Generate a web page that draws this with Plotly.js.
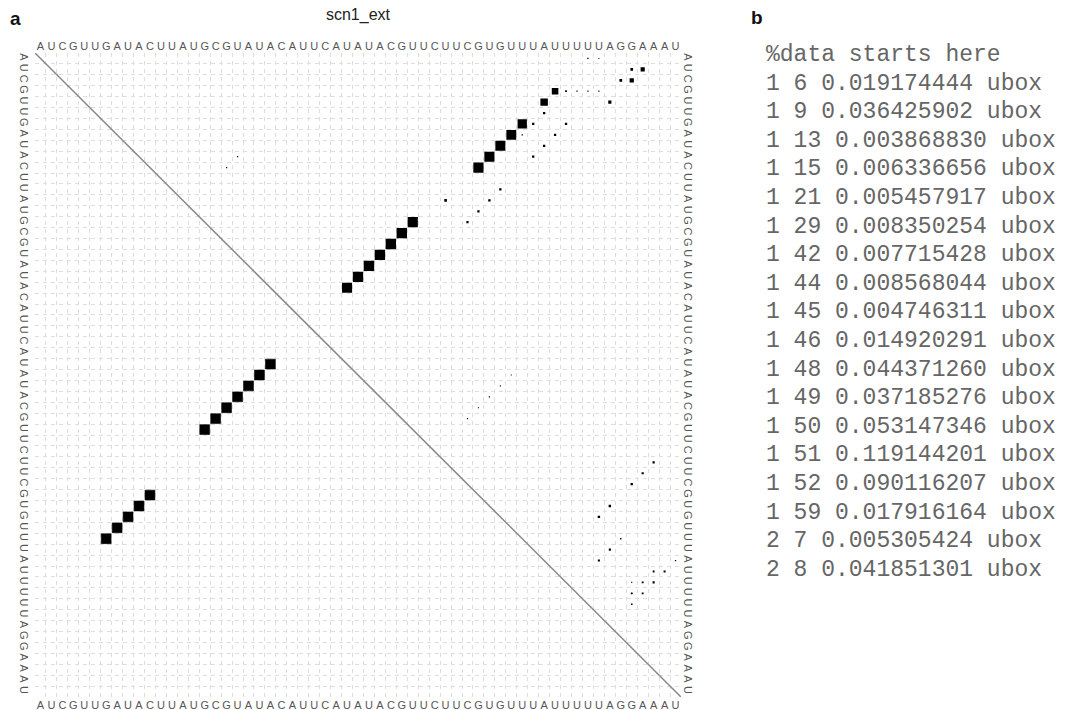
<!DOCTYPE html>
<html><head><meta charset="utf-8">
<script src="https://cdn.plot.ly/plotly-3.0.1.min.js"></script>
<style>html,body{margin:0;padding:0;background:#fff}</style>
</head><body><div id="chart" style="width:1071px;height:710px"></div>
<script>
// ---- data ----
const sequence = "AUCGUUGAUACUUAUGCGUAUACAUUCAUAUACGUUCUUCGUGUUUAUUUUUAGGAAAU";
const plotTitle = "scn1_ext";
const listingHeader = "%data starts here";
// pairs printed in panel b (i, j, sqrt(p))
const listI = [1,1,1,1,1,1,1,1,1,1,1,1,1,1,1,1,2,2];
const listJ = [6,9,13,15,21,29,42,44,45,46,48,49,50,51,52,59,7,8];
const listV = [0.019174444,0.036425902,0.003868830,0.006336656,0.005457917,0.008350254,0.007715428,0.008568044,0.004746311,0.014920291,0.044371260,0.037185276,0.053147346,0.119144201,0.090116207,0.017916164,0.005305424,0.041851301];
// other base-pair probabilities (i, j, sqrt(p))
const probI = [2,2,3,3,4,4,4,4,4,5,5,6,7,7,7,8,8,8,9,9,10,10,11,13,14,14,15,16,16,17,18,19,20,21,22,10,11,30,31,32,33,34,38,39,40,42,43,45,46,47,47,48,48,49,49,49,50,50,51];
const probJ = [55,56,54,55,48,49,50,51,52,47,53,47,45,46,49,44,45,48,43,47,42,46,41,43,42,38,41,40,35,34,33,32,31,30,29,19,18,44,43,42,41,40,57,56,55,53,52,54,53,52,59,57,58,55,56,57,55,56,55];
const probV = [0.24,0.38,0.25,0.39,0.60,0.16,0.11,0.11,0.11,0.68,0.29,0.21,0.85,0.21,0.21,0.90,0.12,0.21,0.91,0.21,0.92,0.21,0.93,0.21,0.22,0.24,0.21,0.20,0.93,0.95,0.95,0.95,0.95,0.94,0.92,0.11,0.11,0.09,0.10,0.11,0.11,0.10,0.20,0.20,0.21,0.22,0.22,0.12,0.19,0.19,0.12,0.17,0.18,0.10,0.17,0.19,0.17,0.17,0.15];
// minimum free energy structure pairs (i, j)
const mfeI = [7,8,9,10,11,16,17,18,19,20,21,22];
const mfeJ = [45,44,43,42,41,35,34,33,32,31,30,29];

// ---- layout geometry (pixels) ----
const W = 1071, H = 710;
const M = {l: 35, r: 390, t: 53, b: 13};
const pw = W - M.l - M.r, ph = H - M.t - M.b;
const px2paperX = p => (p - M.l) / pw;
const py2paperY = p => 1 - (p - M.t) / ph;

const n = sequence.length;
const letters = sequence.split('');
const idx = letters.map((_, k) => k + 1);

function squares(cx, cy, side) {
  const xs = [], ys = [];
  for (let k = 0; k < cx.length; k++) {
    const h = side[k] / 2;
    xs.push(cx[k]-h, cx[k]+h, cx[k]+h, cx[k]-h, cx[k]-h, null);
    ys.push(cy[k]-h, cy[k]-h, cy[k]+h, cy[k]+h, cy[k]-h, null);
  }
  return {xs, ys};
}

const allI = listI.concat(probI), allJ = listJ.concat(probJ), allV = listV.concat(probV);
const up = squares(allJ, allI, allV);
const mfeSide = mfeI.map(() => 0.9);
const lo = squares(mfeI, mfeJ, mfeSide);

const traces = [
  {type: 'scatter', mode: 'lines', x: up.xs, y: up.ys, fill: 'toself', fillcolor: '#000',
   line: {width: 0, color: '#000'}, hoverinfo: 'skip', showlegend: false},
  {type: 'scatter', mode: 'lines', x: lo.xs, y: lo.ys, fill: 'toself', fillcolor: '#000',
   line: {width: 0.6, color: '#000'}, hoverinfo: 'skip', showlegend: false},
  {type: 'scatter', mode: 'markers', x: [1], y: [1], xaxis: 'x2', yaxis: 'y2',
   marker: {opacity: 0}, hoverinfo: 'skip', showlegend: false}
];

const tickFont = {family: 'Liberation Sans, Arial, sans-serif', size: 11, color: '#555'};
const gridMinor = {tickmode: 'linear', tick0: 0.5, dtick: 1, showgrid: true,
  gridcolor: '#dedede', gridwidth: 1, griddash: '4px,4px', ticks: ''};
const baseAxis = {
  range: [0.5, n + 0.5], tickmode: 'array', tickvals: idx, ticktext: letters,
  showgrid: false, zeroline: false, showline: false, ticks: '', tickfont: tickFont,
  automargin: false, fixedrange: true
};

const lines = [listingHeader].concat(listI.map((v, k) => v + ' ' + listJ[k] + ' ' + listV[k].toFixed(9) + ' ubox'));
const annotations = [
  {text: '<b>a</b>', xref: 'paper', yref: 'paper', x: px2paperX(15), y: py2paperY(19),
   xanchor: 'center', yanchor: 'middle', showarrow: false,
   font: {family: 'Liberation Sans, Arial, sans-serif', size: 19, color: '#111'}},
  {text: '<b>b</b>', xref: 'paper', yref: 'paper', x: px2paperX(757), y: py2paperY(18),
   xanchor: 'center', yanchor: 'middle', showarrow: false,
   font: {family: 'Liberation Sans, Arial, sans-serif', size: 19, color: '#111'}}
];
lines.forEach((t, k) => annotations.push({
  text: t, xref: 'paper', yref: 'paper', x: px2paperX(764), y: py2paperY(55 + k * 28.6),
  xanchor: 'left', yanchor: 'middle', showarrow: false,
  font: {family: 'Liberation Mono, Courier New, monospace', size: 23, color: '#666'}
}));

const layout = {
  width: W, height: H, margin: M, paper_bgcolor: '#fff', plot_bgcolor: '#fff',
  title: {text: plotTitle, x: 0.5, xref: 'paper', y: 1 - 14 / H, yref: 'container', yanchor: 'middle',
    font: {family: 'Liberation Sans, Arial, sans-serif', size: 16, color: '#222'}},
  xaxis: Object.assign({}, baseAxis, {side: 'bottom', minor: gridMinor}),
  xaxis2: Object.assign({}, baseAxis, {side: 'top', overlaying: 'x', anchor: 'y'}),
  yaxis: Object.assign({}, baseAxis, {range: [n + 0.5, 0.5], side: 'left', tickangle: 90,
    ticklabelstandoff: 3, minor: gridMinor}),
  yaxis2: Object.assign({}, baseAxis, {range: [n + 0.5, 0.5], side: 'right', overlaying: 'y', anchor: 'x',
    tickangle: 90, ticklabelstandoff: 0}),
  shapes: [{type: 'line', xref: 'x', yref: 'y', x0: 0.5, y0: 0.5, x1: n + 0.5, y1: n + 0.5,
    line: {color: '#888', width: 1.5}}],
  annotations: annotations
};

Plotly.newPlot('chart', traces, layout, {displayModeBar: false, staticPlot: true});
</script></body></html>
